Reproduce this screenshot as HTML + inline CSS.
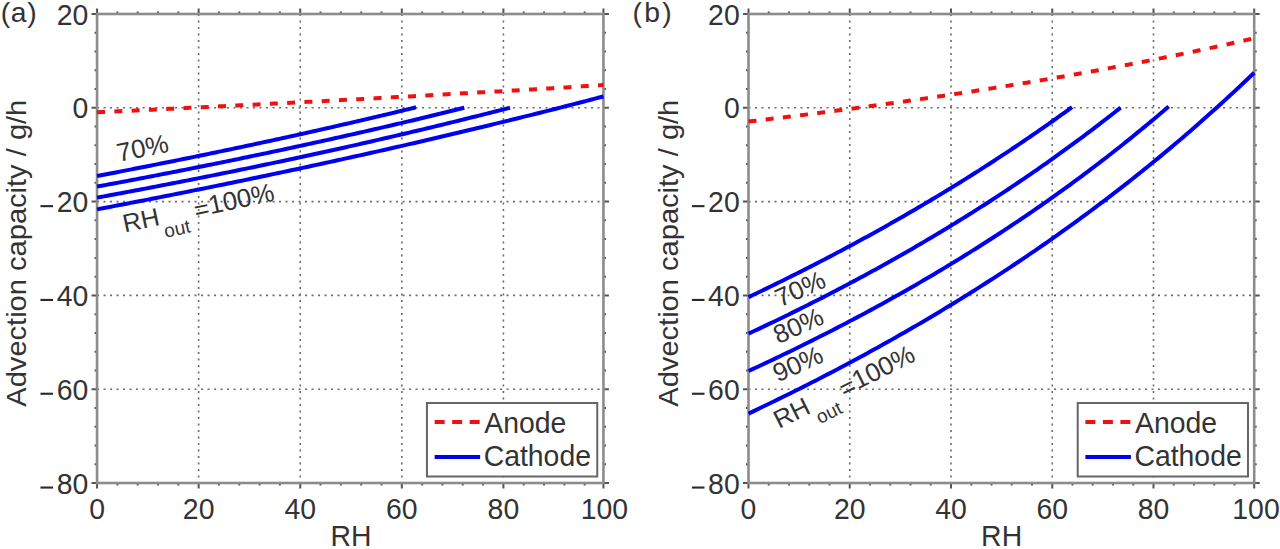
<!DOCTYPE html>
<html><head><meta charset="utf-8"><style>
html,body{margin:0;padding:0;background:#fff;width:1280px;height:549px;overflow:hidden}
svg text{font-family:"Liberation Sans", sans-serif;fill:#333}
</style></head><body>
<svg width="1280" height="549" viewBox="0 0 1280 549" style="display:block">
<rect width="1280" height="549" fill="#fff"/>
<line x1="198.64" y1="14.0" x2="198.64" y2="483.0" stroke="#6a6a6a" stroke-width="1.6" stroke-dasharray="2 4.5"/>
<line x1="300.23" y1="14.0" x2="300.23" y2="483.0" stroke="#6a6a6a" stroke-width="1.6" stroke-dasharray="2 4.5"/>
<line x1="401.82" y1="14.0" x2="401.82" y2="483.0" stroke="#6a6a6a" stroke-width="1.6" stroke-dasharray="2 4.5"/>
<line x1="503.41" y1="14.0" x2="503.41" y2="483.0" stroke="#6a6a6a" stroke-width="1.6" stroke-dasharray="2 4.5"/>
<line x1="97.05" y1="107.80" x2="603.45" y2="107.80" stroke="#6a6a6a" stroke-width="1.6" stroke-dasharray="2 4.5"/>
<line x1="97.05" y1="201.60" x2="603.45" y2="201.60" stroke="#6a6a6a" stroke-width="1.6" stroke-dasharray="2 4.5"/>
<line x1="97.05" y1="295.40" x2="603.45" y2="295.40" stroke="#6a6a6a" stroke-width="1.6" stroke-dasharray="2 4.5"/>
<line x1="97.05" y1="389.20" x2="603.45" y2="389.20" stroke="#6a6a6a" stroke-width="1.6" stroke-dasharray="2 4.5"/>
<path d="M97.05,483.0 v5.5 M97.05,14.0 v-5.5 M117.37,483.0 v2.5 M117.37,14.0 v-2.5 M137.69,483.0 v2.5 M137.69,14.0 v-2.5 M158.00,483.0 v2.5 M158.00,14.0 v-2.5 M178.32,483.0 v2.5 M178.32,14.0 v-2.5 M198.64,483.0 v5.5 M198.64,14.0 v-5.5 M218.96,483.0 v2.5 M218.96,14.0 v-2.5 M239.28,483.0 v2.5 M239.28,14.0 v-2.5 M259.59,483.0 v2.5 M259.59,14.0 v-2.5 M279.91,483.0 v2.5 M279.91,14.0 v-2.5 M300.23,483.0 v5.5 M300.23,14.0 v-5.5 M320.55,483.0 v2.5 M320.55,14.0 v-2.5 M340.87,483.0 v2.5 M340.87,14.0 v-2.5 M361.18,483.0 v2.5 M361.18,14.0 v-2.5 M381.50,483.0 v2.5 M381.50,14.0 v-2.5 M401.82,483.0 v5.5 M401.82,14.0 v-5.5 M422.14,483.0 v2.5 M422.14,14.0 v-2.5 M442.46,483.0 v2.5 M442.46,14.0 v-2.5 M462.77,483.0 v2.5 M462.77,14.0 v-2.5 M483.09,483.0 v2.5 M483.09,14.0 v-2.5 M503.41,483.0 v5.5 M503.41,14.0 v-5.5 M523.73,483.0 v2.5 M523.73,14.0 v-2.5 M544.05,483.0 v2.5 M544.05,14.0 v-2.5 M564.36,483.0 v2.5 M564.36,14.0 v-2.5 M584.68,483.0 v2.5 M584.68,14.0 v-2.5 M603.45,483.0 v5.5 M603.45,14.0 v-5.5 M97.05,483.00 h-5.5 M603.45,483.00 h5.5 M97.05,464.24 h-2.5 M603.45,464.24 h2.5 M97.05,445.48 h-2.5 M603.45,445.48 h2.5 M97.05,426.72 h-2.5 M603.45,426.72 h2.5 M97.05,407.96 h-2.5 M603.45,407.96 h2.5 M97.05,389.20 h-5.5 M603.45,389.20 h5.5 M97.05,370.44 h-2.5 M603.45,370.44 h2.5 M97.05,351.68 h-2.5 M603.45,351.68 h2.5 M97.05,332.92 h-2.5 M603.45,332.92 h2.5 M97.05,314.16 h-2.5 M603.45,314.16 h2.5 M97.05,295.40 h-5.5 M603.45,295.40 h5.5 M97.05,276.64 h-2.5 M603.45,276.64 h2.5 M97.05,257.88 h-2.5 M603.45,257.88 h2.5 M97.05,239.12 h-2.5 M603.45,239.12 h2.5 M97.05,220.36 h-2.5 M603.45,220.36 h2.5 M97.05,201.60 h-5.5 M603.45,201.60 h5.5 M97.05,182.84 h-2.5 M603.45,182.84 h2.5 M97.05,164.08 h-2.5 M603.45,164.08 h2.5 M97.05,145.32 h-2.5 M603.45,145.32 h2.5 M97.05,126.56 h-2.5 M603.45,126.56 h2.5 M97.05,107.80 h-5.5 M603.45,107.80 h5.5 M97.05,89.04 h-2.5 M603.45,89.04 h2.5 M97.05,70.28 h-2.5 M603.45,70.28 h2.5 M97.05,51.52 h-2.5 M603.45,51.52 h2.5 M97.05,32.76 h-2.5 M603.45,32.76 h2.5 M97.05,14.00 h-5.5 M603.45,14.00 h5.5" stroke="#555555" stroke-width="2" fill="none"/>
<rect x="97.05" y="14.0" width="506.40" height="469.00" fill="none" stroke="#8c8c8c" stroke-width="2.6"/>
<path d="M97.05,175.99 L99.71,175.49 L102.37,174.98 L105.02,174.47 L107.68,173.96 L110.34,173.45 L113.00,172.94 L115.66,172.43 L118.32,171.92 L120.97,171.41 L123.63,170.89 L126.29,170.38 L128.95,169.86 L131.61,169.34 L134.27,168.82 L136.92,168.30 L139.58,167.78 L142.24,167.26 L144.90,166.74 L147.56,166.21 L150.22,165.69 L152.87,165.16 L155.53,164.63 L158.19,164.11 L160.85,163.58 L163.51,163.05 L166.17,162.52 L168.82,161.98 L171.48,161.45 L174.14,160.92 L176.80,160.38 L179.46,159.84 L182.11,159.31 L184.77,158.77 L187.43,158.23 L190.09,157.69 L192.75,157.14 L195.41,156.60 L198.06,156.06 L200.72,155.51 L203.38,154.96 L206.04,154.42 L208.70,153.87 L211.36,153.32 L214.01,152.77 L216.67,152.21 L219.33,151.66 L221.99,151.11 L224.65,150.55 L227.31,149.99 L229.96,149.44 L232.62,148.88 L235.28,148.32 L237.94,147.76 L240.60,147.19 L243.25,146.63 L245.91,146.06 L248.57,145.50 L251.23,144.93 L253.89,144.36 L256.55,143.79 L259.20,143.22 L261.86,142.65 L264.52,142.08 L267.18,141.50 L269.84,140.93 L272.50,140.35 L275.15,139.77 L277.81,139.19 L280.47,138.61 L283.13,138.03 L285.79,137.45 L288.45,136.87 L291.10,136.28 L293.76,135.69 L296.42,135.11 L299.08,134.52 L301.74,133.93 L304.40,133.34 L307.05,132.74 L309.71,132.15 L312.37,131.55 L315.03,130.96 L317.69,130.36 L320.34,129.76 L323.00,129.16 L325.66,128.56 L328.32,127.96 L330.98,127.35 L333.64,126.75 L336.29,126.14 L338.95,125.53 L341.61,124.92 L344.27,124.31 L346.93,123.70 L349.59,123.09 L352.24,122.47 L354.90,121.86 L357.56,121.24 L360.22,120.62 L362.88,120.00 L365.54,119.38 L368.19,118.76 L370.85,118.13 L373.51,117.51 L376.17,116.88 L378.83,116.25 L381.49,115.62 L384.14,114.99 L386.80,114.36 L389.46,113.73 L392.12,113.09 L394.78,112.45 L397.43,111.82 L400.09,111.18 L402.75,110.54 L405.41,109.89 L408.07,109.25 L410.73,108.61 L413.38,107.96 L416.04,107.31" stroke="#0000f0" stroke-width="4.0" fill="none" stroke-linejoin="round"/>
<path d="M97.05,186.59 L100.11,186.03 L103.17,185.46 L106.23,184.89 L109.29,184.32 L112.35,183.74 L115.41,183.17 L118.47,182.60 L121.53,182.02 L124.59,181.44 L127.65,180.86 L130.71,180.28 L133.77,179.70 L136.84,179.12 L139.90,178.53 L142.96,177.95 L146.02,177.36 L149.08,176.77 L152.14,176.18 L155.20,175.59 L158.26,175.00 L161.32,174.41 L164.38,173.81 L167.44,173.21 L170.50,172.62 L173.56,172.02 L176.62,171.42 L179.68,170.81 L182.74,170.21 L185.80,169.60 L188.86,169.00 L191.92,168.39 L194.98,167.78 L198.04,167.17 L201.10,166.56 L204.16,165.94 L207.22,165.33 L210.28,164.71 L213.35,164.09 L216.41,163.47 L219.47,162.85 L222.53,162.23 L225.59,161.60 L228.65,160.98 L231.71,160.35 L234.77,159.72 L237.83,159.09 L240.89,158.46 L243.95,157.82 L247.01,157.19 L250.07,156.55 L253.13,155.91 L256.19,155.27 L259.25,154.63 L262.31,153.99 L265.37,153.34 L268.43,152.70 L271.49,152.05 L274.55,151.40 L277.61,150.75 L280.67,150.10 L283.73,149.44 L286.79,148.79 L289.86,148.13 L292.92,147.47 L295.98,146.81 L299.04,146.15 L302.10,145.48 L305.16,144.82 L308.22,144.15 L311.28,143.48 L314.34,142.81 L317.40,142.14 L320.46,141.47 L323.52,140.79 L326.58,140.11 L329.64,139.43 L332.70,138.75 L335.76,138.07 L338.82,137.39 L341.88,136.70 L344.94,136.01 L348.00,135.32 L351.06,134.63 L354.12,133.94 L357.18,133.24 L360.24,132.55 L363.30,131.85 L366.37,131.15 L369.43,130.45 L372.49,129.74 L375.55,129.04 L378.61,128.33 L381.67,127.62 L384.73,126.91 L387.79,126.20 L390.85,125.48 L393.91,124.77 L396.97,124.05 L400.03,123.33 L403.09,122.61 L406.15,121.88 L409.21,121.16 L412.27,120.43 L415.33,119.70 L418.39,118.97 L421.45,118.24 L424.51,117.50 L427.57,116.76 L430.63,116.02 L433.69,115.28 L436.75,114.54 L439.81,113.79 L442.88,113.05 L445.94,112.30 L449.00,111.55 L452.06,110.79 L455.12,110.04 L458.18,109.28 L461.24,108.52 L464.30,107.76" stroke="#0000f0" stroke-width="4.0" fill="none" stroke-linejoin="round"/>
<path d="M97.05,197.61 L100.49,196.98 L103.93,196.35 L107.37,195.71 L110.82,195.08 L114.26,194.44 L117.70,193.80 L121.14,193.16 L124.58,192.51 L128.02,191.87 L131.46,191.22 L134.90,190.57 L138.35,189.92 L141.79,189.27 L145.23,188.62 L148.67,187.96 L152.11,187.30 L155.55,186.64 L158.99,185.98 L162.44,185.32 L165.88,184.65 L169.32,183.99 L172.76,183.32 L176.20,182.65 L179.64,181.98 L183.08,181.30 L186.53,180.63 L189.97,179.95 L193.41,179.27 L196.85,178.59 L200.29,177.91 L203.73,177.22 L207.17,176.54 L210.61,175.85 L214.06,175.16 L217.50,174.47 L220.94,173.77 L224.38,173.08 L227.82,172.38 L231.26,171.68 L234.70,170.97 L238.15,170.27 L241.59,169.56 L245.03,168.86 L248.47,168.15 L251.91,167.43 L255.35,166.72 L258.79,166.00 L262.24,165.29 L265.68,164.57 L269.12,163.85 L272.56,163.12 L276.00,162.39 L279.44,161.67 L282.88,160.94 L286.32,160.20 L289.77,159.47 L293.21,158.73 L296.65,157.99 L300.09,157.25 L303.53,156.51 L306.97,155.77 L310.41,155.02 L313.86,154.27 L317.30,153.52 L320.74,152.77 L324.18,152.01 L327.62,151.25 L331.06,150.49 L334.50,149.73 L337.95,148.96 L341.39,148.20 L344.83,147.43 L348.27,146.66 L351.71,145.88 L355.15,145.11 L358.59,144.33 L362.03,143.55 L365.48,142.77 L368.92,141.98 L372.36,141.20 L375.80,140.41 L379.24,139.61 L382.68,138.82 L386.12,138.02 L389.57,137.22 L393.01,136.42 L396.45,135.62 L399.89,134.81 L403.33,134.01 L406.77,133.19 L410.21,132.38 L413.66,131.57 L417.10,130.75 L420.54,129.93 L423.98,129.10 L427.42,128.28 L430.86,127.45 L434.30,126.62 L437.74,125.79 L441.19,124.95 L444.63,124.11 L448.07,123.27 L451.51,122.43 L454.95,121.58 L458.39,120.73 L461.83,119.88 L465.28,119.03 L468.72,118.17 L472.16,117.31 L475.60,116.45 L479.04,115.59 L482.48,114.72 L485.92,113.85 L489.37,112.98 L492.81,112.10 L496.25,111.23 L499.69,110.34 L503.13,109.46 L506.57,108.58 L510.01,107.69" stroke="#0000f0" stroke-width="4.0" fill="none" stroke-linejoin="round"/>
<path d="M97.05,209.34 L101.27,208.54 L105.49,207.74 L109.71,206.93 L113.93,206.13 L118.15,205.32 L122.37,204.51 L126.59,203.70 L130.81,202.88 L135.03,202.06 L139.25,201.25 L143.47,200.43 L147.69,199.60 L151.91,198.78 L156.13,197.95 L160.35,197.12 L164.57,196.29 L168.79,195.46 L173.01,194.62 L177.23,193.79 L181.45,192.95 L185.67,192.10 L189.89,191.26 L194.11,190.41 L198.33,189.57 L202.55,188.72 L206.77,187.86 L210.99,187.01 L215.21,186.15 L219.43,185.29 L223.65,184.43 L227.87,183.57 L232.09,182.70 L236.31,181.83 L240.53,180.96 L244.75,180.09 L248.97,179.21 L253.19,178.33 L257.41,177.45 L261.63,176.57 L265.85,175.69 L270.07,174.80 L274.29,173.91 L278.51,173.02 L282.73,172.13 L286.95,171.23 L291.17,170.33 L295.39,169.43 L299.61,168.53 L303.83,167.62 L308.05,166.71 L312.27,165.80 L316.49,164.89 L320.71,163.97 L324.93,163.05 L329.15,162.13 L333.37,161.21 L337.59,160.28 L341.81,159.35 L346.03,158.42 L350.25,157.49 L354.47,156.56 L358.69,155.62 L362.91,154.68 L367.13,153.73 L371.35,152.79 L375.57,151.84 L379.79,150.89 L384.01,149.93 L388.23,148.98 L392.45,148.02 L396.67,147.06 L400.89,146.09 L405.11,145.12 L409.33,144.15 L413.55,143.18 L417.77,142.21 L421.99,141.23 L426.21,140.25 L430.43,139.27 L434.65,138.28 L438.87,137.29 L443.09,136.30 L447.31,135.31 L451.53,134.31 L455.75,133.31 L459.97,132.31 L464.19,131.30 L468.41,130.29 L472.63,129.28 L476.85,128.27 L481.07,127.25 L485.29,126.23 L489.51,125.21 L493.73,124.18 L497.95,123.15 L502.17,122.12 L506.39,121.09 L510.61,120.05 L514.83,119.01 L519.05,117.97 L523.27,116.92 L527.49,115.87 L531.71,114.82 L535.93,113.76 L540.15,112.70 L544.37,111.64 L548.59,110.58 L552.81,109.51 L557.03,108.44 L561.25,107.37 L565.47,106.29 L569.69,105.21 L573.91,104.12 L578.13,103.04 L582.35,101.95 L586.57,100.86 L590.79,99.76 L595.01,98.66 L599.23,97.56 L603.45,96.45" stroke="#0000f0" stroke-width="4.0" fill="none" stroke-linejoin="round"/>
<path d="M97.05,112.26 L101.27,112.06 L105.49,111.86 L109.71,111.66 L113.93,111.47 L118.15,111.27 L122.37,111.07 L126.59,110.87 L130.81,110.67 L135.03,110.47 L139.25,110.27 L143.47,110.07 L147.69,109.87 L151.91,109.67 L156.13,109.47 L160.35,109.26 L164.57,109.06 L168.79,108.86 L173.01,108.65 L177.23,108.45 L181.45,108.24 L185.67,108.04 L189.89,107.83 L194.11,107.62 L198.33,107.42 L202.55,107.21 L206.77,107.00 L210.99,106.79 L215.21,106.58 L219.43,106.37 L223.65,106.17 L227.87,105.95 L232.09,105.74 L236.31,105.53 L240.53,105.32 L244.75,105.11 L248.97,104.90 L253.19,104.68 L257.41,104.47 L261.63,104.25 L265.85,104.04 L270.07,103.82 L274.29,103.61 L278.51,103.39 L282.73,103.18 L286.95,102.96 L291.17,102.74 L295.39,102.52 L299.61,102.30 L303.83,102.08 L308.05,101.86 L312.27,101.64 L316.49,101.42 L320.71,101.20 L324.93,100.98 L329.15,100.76 L333.37,100.53 L337.59,100.31 L341.81,100.09 L346.03,99.86 L350.25,99.64 L354.47,99.41 L358.69,99.18 L362.91,98.96 L367.13,98.73 L371.35,98.50 L375.57,98.27 L379.79,98.04 L384.01,97.81 L388.23,97.58 L392.45,97.35 L396.67,97.12 L400.89,96.89 L405.11,96.66 L409.33,96.42 L413.55,96.19 L417.77,95.96 L421.99,95.72 L426.21,95.49 L430.43,95.25 L434.65,95.01 L438.87,94.78 L443.09,94.54 L447.31,94.30 L451.53,94.06 L455.75,93.82 L459.97,93.58 L464.19,93.34 L468.41,93.10 L472.63,92.86 L476.85,92.62 L481.07,92.37 L485.29,92.13 L489.51,91.89 L493.73,91.64 L497.95,91.40 L502.17,91.15 L506.39,90.90 L510.61,90.66 L514.83,90.41 L519.05,90.16 L523.27,89.91 L527.49,89.66 L531.71,89.41 L535.93,89.16 L540.15,88.91 L544.37,88.65 L548.59,88.40 L552.81,88.15 L557.03,87.89 L561.25,87.64 L565.47,87.38 L569.69,87.13 L573.91,86.87 L578.13,86.61 L582.35,86.35 L586.57,86.10 L590.79,85.84 L595.01,85.58 L599.23,85.31 L603.45,85.05" stroke="#f01010" stroke-width="4" fill="none" stroke-dasharray="8 9.3"/>
<text transform="translate(88.25,24.60) scale(1,1.05)" font-size="28.4" text-anchor="end">20</text>
<text transform="translate(88.25,118.40) scale(1,1.05)" font-size="28.4" text-anchor="end">0</text>
<text transform="translate(88.25,212.20) scale(1,1.05)" font-size="28.4" text-anchor="end">20</text>
<rect x="40.45" y="205.10" width="12.6" height="2.1" fill="#2a2a2a"/>
<text transform="translate(88.25,306.00) scale(1,1.05)" font-size="28.4" text-anchor="end">40</text>
<rect x="40.45" y="298.90" width="12.6" height="2.1" fill="#2a2a2a"/>
<text transform="translate(88.25,399.80) scale(1,1.05)" font-size="28.4" text-anchor="end">60</text>
<rect x="40.45" y="392.70" width="12.6" height="2.1" fill="#2a2a2a"/>
<text transform="translate(88.25,493.60) scale(1,1.05)" font-size="28.4" text-anchor="end">80</text>
<rect x="40.45" y="486.50" width="12.6" height="2.1" fill="#2a2a2a"/>
<text transform="translate(97.05,518.80) scale(1,1.05)" font-size="28.4" text-anchor="middle">0</text>
<text transform="translate(198.64,518.80) scale(1,1.05)" font-size="28.4" text-anchor="middle">20</text>
<text transform="translate(300.23,518.80) scale(1,1.05)" font-size="28.4" text-anchor="middle">40</text>
<text transform="translate(401.82,518.80) scale(1,1.05)" font-size="28.4" text-anchor="middle">60</text>
<text transform="translate(503.41,518.80) scale(1,1.05)" font-size="28.4" text-anchor="middle">80</text>
<text transform="translate(604.45,518.80) scale(1,1.05)" font-size="28.4" text-anchor="middle">100</text>
<text transform="translate(351.02,545.80) scale(1,1.05)" font-size="28.4" text-anchor="middle">RH</text>
<text transform="translate(26.05,253.2) rotate(-90)" text-anchor="middle" font-size="28" textLength="307" lengthAdjust="spacingAndGlyphs">Advection capacity / g/h</text>
<text transform="translate(0.80,22.30) scale(1,1.0)" font-size="28.3" letter-spacing="0.6">(a)</text>
<rect x="426.95" y="403" width="170.3" height="73.5" fill="#fff" stroke="#666" stroke-width="2"/>
<line x1="434.65" y1="422" x2="480.15" y2="422" stroke="#f01010" stroke-width="4" stroke-dasharray="10 7.5"/>
<line x1="434.65" y1="457" x2="480.15" y2="457" stroke="#0000f0" stroke-width="4"/>
<text transform="translate(484.25,433.00) scale(1,1.05)" font-size="28.4">Anode</text>
<text transform="translate(483.65,465.60) scale(1,1.05)" font-size="28.4">Cathode</text>
<line x1="849.75" y1="14.0" x2="849.75" y2="483.0" stroke="#6a6a6a" stroke-width="1.6" stroke-dasharray="2 4.5"/>
<line x1="951.00" y1="14.0" x2="951.00" y2="483.0" stroke="#6a6a6a" stroke-width="1.6" stroke-dasharray="2 4.5"/>
<line x1="1052.25" y1="14.0" x2="1052.25" y2="483.0" stroke="#6a6a6a" stroke-width="1.6" stroke-dasharray="2 4.5"/>
<line x1="1153.50" y1="14.0" x2="1153.50" y2="483.0" stroke="#6a6a6a" stroke-width="1.6" stroke-dasharray="2 4.5"/>
<line x1="748.5" y1="107.80" x2="1254.2" y2="107.80" stroke="#6a6a6a" stroke-width="1.6" stroke-dasharray="2 4.5"/>
<line x1="748.5" y1="201.60" x2="1254.2" y2="201.60" stroke="#6a6a6a" stroke-width="1.6" stroke-dasharray="2 4.5"/>
<line x1="748.5" y1="295.40" x2="1254.2" y2="295.40" stroke="#6a6a6a" stroke-width="1.6" stroke-dasharray="2 4.5"/>
<line x1="748.5" y1="389.20" x2="1254.2" y2="389.20" stroke="#6a6a6a" stroke-width="1.6" stroke-dasharray="2 4.5"/>
<path d="M748.50,483.0 v5.5 M748.50,14.0 v-5.5 M768.75,483.0 v2.5 M768.75,14.0 v-2.5 M789.00,483.0 v2.5 M789.00,14.0 v-2.5 M809.25,483.0 v2.5 M809.25,14.0 v-2.5 M829.50,483.0 v2.5 M829.50,14.0 v-2.5 M849.75,483.0 v5.5 M849.75,14.0 v-5.5 M870.00,483.0 v2.5 M870.00,14.0 v-2.5 M890.25,483.0 v2.5 M890.25,14.0 v-2.5 M910.50,483.0 v2.5 M910.50,14.0 v-2.5 M930.75,483.0 v2.5 M930.75,14.0 v-2.5 M951.00,483.0 v5.5 M951.00,14.0 v-5.5 M971.25,483.0 v2.5 M971.25,14.0 v-2.5 M991.50,483.0 v2.5 M991.50,14.0 v-2.5 M1011.75,483.0 v2.5 M1011.75,14.0 v-2.5 M1032.00,483.0 v2.5 M1032.00,14.0 v-2.5 M1052.25,483.0 v5.5 M1052.25,14.0 v-5.5 M1072.50,483.0 v2.5 M1072.50,14.0 v-2.5 M1092.75,483.0 v2.5 M1092.75,14.0 v-2.5 M1113.00,483.0 v2.5 M1113.00,14.0 v-2.5 M1133.25,483.0 v2.5 M1133.25,14.0 v-2.5 M1153.50,483.0 v5.5 M1153.50,14.0 v-5.5 M1173.75,483.0 v2.5 M1173.75,14.0 v-2.5 M1194.00,483.0 v2.5 M1194.00,14.0 v-2.5 M1214.25,483.0 v2.5 M1214.25,14.0 v-2.5 M1234.50,483.0 v2.5 M1234.50,14.0 v-2.5 M1254.20,483.0 v5.5 M1254.20,14.0 v-5.5 M748.5,483.00 h-5.5 M1254.2,483.00 h5.5 M748.5,464.24 h-2.5 M1254.2,464.24 h2.5 M748.5,445.48 h-2.5 M1254.2,445.48 h2.5 M748.5,426.72 h-2.5 M1254.2,426.72 h2.5 M748.5,407.96 h-2.5 M1254.2,407.96 h2.5 M748.5,389.20 h-5.5 M1254.2,389.20 h5.5 M748.5,370.44 h-2.5 M1254.2,370.44 h2.5 M748.5,351.68 h-2.5 M1254.2,351.68 h2.5 M748.5,332.92 h-2.5 M1254.2,332.92 h2.5 M748.5,314.16 h-2.5 M1254.2,314.16 h2.5 M748.5,295.40 h-5.5 M1254.2,295.40 h5.5 M748.5,276.64 h-2.5 M1254.2,276.64 h2.5 M748.5,257.88 h-2.5 M1254.2,257.88 h2.5 M748.5,239.12 h-2.5 M1254.2,239.12 h2.5 M748.5,220.36 h-2.5 M1254.2,220.36 h2.5 M748.5,201.60 h-5.5 M1254.2,201.60 h5.5 M748.5,182.84 h-2.5 M1254.2,182.84 h2.5 M748.5,164.08 h-2.5 M1254.2,164.08 h2.5 M748.5,145.32 h-2.5 M1254.2,145.32 h2.5 M748.5,126.56 h-2.5 M1254.2,126.56 h2.5 M748.5,107.80 h-5.5 M1254.2,107.80 h5.5 M748.5,89.04 h-2.5 M1254.2,89.04 h2.5 M748.5,70.28 h-2.5 M1254.2,70.28 h2.5 M748.5,51.52 h-2.5 M1254.2,51.52 h2.5 M748.5,32.76 h-2.5 M1254.2,32.76 h2.5 M748.5,14.00 h-5.5 M1254.2,14.00 h5.5" stroke="#555555" stroke-width="2" fill="none"/>
<rect x="748.5" y="14.0" width="505.70" height="469.00" fill="none" stroke="#8c8c8c" stroke-width="2.6"/>
<path d="M748.50,297.14 L751.20,295.86 L753.89,294.57 L756.59,293.28 L759.28,291.99 L761.98,290.69 L764.67,289.39 L767.37,288.09 L770.07,286.78 L772.76,285.46 L775.46,284.15 L778.15,282.82 L780.85,281.50 L783.55,280.17 L786.24,278.83 L788.94,277.49 L791.63,276.15 L794.33,274.80 L797.02,273.45 L799.72,272.09 L802.42,270.73 L805.11,269.36 L807.81,267.99 L810.50,266.61 L813.20,265.23 L815.89,263.85 L818.59,262.46 L821.29,261.07 L823.98,259.67 L826.68,258.26 L829.37,256.86 L832.07,255.44 L834.76,254.03 L837.46,252.60 L840.16,251.18 L842.85,249.74 L845.55,248.31 L848.24,246.86 L850.94,245.42 L853.64,243.97 L856.33,242.51 L859.03,241.05 L861.72,239.58 L864.42,238.11 L867.11,236.63 L869.81,235.15 L872.51,233.66 L875.20,232.17 L877.90,230.67 L880.59,229.17 L883.29,227.66 L885.98,226.15 L888.68,224.63 L891.38,223.11 L894.07,221.58 L896.77,220.04 L899.46,218.50 L902.16,216.96 L904.86,215.41 L907.55,213.85 L910.25,212.29 L912.94,210.72 L915.64,209.15 L918.33,207.57 L921.03,205.98 L923.73,204.39 L926.42,202.80 L929.12,201.20 L931.81,199.59 L934.51,197.98 L937.20,196.36 L939.90,194.73 L942.60,193.10 L945.29,191.47 L947.99,189.82 L950.68,188.17 L953.38,186.52 L956.08,184.86 L958.77,183.19 L961.47,181.52 L964.16,179.84 L966.86,178.16 L969.55,176.46 L972.25,174.77 L974.95,173.06 L977.64,171.35 L980.34,169.64 L983.03,167.91 L985.73,166.18 L988.42,164.45 L991.12,162.71 L993.82,160.96 L996.51,159.20 L999.21,157.44 L1001.90,155.67 L1004.60,153.89 L1007.30,152.11 L1009.99,150.32 L1012.69,148.53 L1015.38,146.73 L1018.08,144.92 L1020.77,143.10 L1023.47,141.28 L1026.17,139.45 L1028.86,137.61 L1031.56,135.76 L1034.25,133.91 L1036.95,132.05 L1039.64,130.19 L1042.34,128.31 L1045.04,126.43 L1047.73,124.54 L1050.43,122.65 L1053.12,120.75 L1055.82,118.84 L1058.51,116.92 L1061.21,114.99 L1063.91,113.06 L1066.60,111.12 L1069.30,109.17 L1071.99,107.22" stroke="#0000f0" stroke-width="4.0" fill="none" stroke-linejoin="round"/>
<path d="M748.50,333.67 L751.60,332.22 L754.70,330.77 L757.80,329.32 L760.90,327.85 L764.00,326.39 L767.10,324.91 L770.21,323.43 L773.31,321.95 L776.41,320.45 L779.51,318.96 L782.61,317.45 L785.71,315.94 L788.81,314.43 L791.91,312.91 L795.01,311.38 L798.11,309.84 L801.21,308.30 L804.31,306.76 L807.41,305.21 L810.52,303.65 L813.62,302.08 L816.72,300.51 L819.82,298.93 L822.92,297.35 L826.02,295.76 L829.12,294.16 L832.22,292.55 L835.32,290.94 L838.42,289.33 L841.52,287.70 L844.62,286.07 L847.73,284.43 L850.83,282.79 L853.93,281.14 L857.03,279.48 L860.13,277.81 L863.23,276.14 L866.33,274.46 L869.43,272.78 L872.53,271.08 L875.63,269.38 L878.73,267.67 L881.83,265.96 L884.93,264.24 L888.04,262.51 L891.14,260.77 L894.24,259.02 L897.34,257.27 L900.44,255.51 L903.54,253.74 L906.64,251.97 L909.74,250.19 L912.84,248.40 L915.94,246.60 L919.04,244.79 L922.14,242.98 L925.24,241.15 L928.35,239.32 L931.45,237.49 L934.55,235.64 L937.65,233.79 L940.75,231.92 L943.85,230.05 L946.95,228.17 L950.05,226.28 L953.15,224.39 L956.25,222.48 L959.35,220.57 L962.45,218.65 L965.55,216.72 L968.66,214.78 L971.76,212.83 L974.86,210.87 L977.96,208.91 L981.06,206.93 L984.16,204.95 L987.26,202.95 L990.36,200.95 L993.46,198.94 L996.56,196.92 L999.66,194.89 L1002.76,192.85 L1005.86,190.80 L1008.97,188.74 L1012.07,186.67 L1015.17,184.60 L1018.27,182.51 L1021.37,180.41 L1024.47,178.30 L1027.57,176.19 L1030.67,174.06 L1033.77,171.92 L1036.87,169.77 L1039.97,167.62 L1043.07,165.45 L1046.17,163.27 L1049.28,161.08 L1052.38,158.88 L1055.48,156.67 L1058.58,154.45 L1061.68,152.22 L1064.78,149.97 L1067.88,147.72 L1070.98,145.45 L1074.08,143.18 L1077.18,140.89 L1080.28,138.59 L1083.38,136.28 L1086.49,133.96 L1089.59,131.63 L1092.69,129.29 L1095.79,126.93 L1098.89,124.56 L1101.99,122.18 L1105.09,119.79 L1108.19,117.39 L1111.29,114.97 L1114.39,112.54 L1117.49,110.10 L1120.59,107.65" stroke="#0000f0" stroke-width="4.0" fill="none" stroke-linejoin="round"/>
<path d="M748.50,371.05 L752.00,369.44 L755.50,367.81 L759.00,366.19 L762.51,364.55 L766.01,362.91 L769.51,361.25 L773.01,359.60 L776.51,357.93 L780.01,356.26 L783.52,354.57 L787.02,352.88 L790.52,351.19 L794.02,349.48 L797.52,347.77 L801.02,346.05 L804.52,344.32 L808.03,342.58 L811.53,340.84 L815.03,339.08 L818.53,337.32 L822.03,335.55 L825.53,333.78 L829.04,331.99 L832.54,330.19 L836.04,328.39 L839.54,326.58 L843.04,324.76 L846.54,322.93 L850.05,321.09 L853.55,319.24 L857.05,317.39 L860.55,315.52 L864.05,313.65 L867.55,311.76 L871.05,309.87 L874.56,307.97 L878.06,306.06 L881.56,304.14 L885.06,302.21 L888.56,300.27 L892.06,298.32 L895.57,296.36 L899.07,294.39 L902.57,292.41 L906.07,290.43 L909.57,288.43 L913.07,286.42 L916.58,284.40 L920.08,282.37 L923.58,280.33 L927.08,278.29 L930.58,276.23 L934.08,274.16 L937.58,272.08 L941.09,269.98 L944.59,267.88 L948.09,265.77 L951.59,263.65 L955.09,261.51 L958.59,259.37 L962.10,257.21 L965.60,255.04 L969.10,252.86 L972.60,250.67 L976.10,248.47 L979.60,246.25 L983.10,244.03 L986.61,241.79 L990.11,239.54 L993.61,237.28 L997.11,235.01 L1000.61,232.72 L1004.11,230.42 L1007.62,228.11 L1011.12,225.79 L1014.62,223.46 L1018.12,221.11 L1021.62,218.75 L1025.12,216.37 L1028.62,213.99 L1032.13,211.59 L1035.63,209.17 L1039.13,206.75 L1042.63,204.31 L1046.13,201.85 L1049.63,199.39 L1053.14,196.91 L1056.64,194.41 L1060.14,191.90 L1063.64,189.38 L1067.14,186.84 L1070.64,184.29 L1074.15,181.73 L1077.65,179.15 L1081.15,176.55 L1084.65,173.94 L1088.15,171.31 L1091.65,168.67 L1095.15,166.02 L1098.66,163.35 L1102.16,160.66 L1105.66,157.96 L1109.16,155.24 L1112.66,152.51 L1116.16,149.76 L1119.67,146.99 L1123.17,144.21 L1126.67,141.41 L1130.17,138.60 L1133.67,135.76 L1137.17,132.92 L1140.67,130.05 L1144.18,127.17 L1147.68,124.26 L1151.18,121.35 L1154.68,118.41 L1158.18,115.46 L1161.68,112.48 L1165.19,109.49 L1168.69,106.48" stroke="#0000f0" stroke-width="4.0" fill="none" stroke-linejoin="round"/>
<path d="M748.50,413.59 L752.71,411.59 L756.93,409.59 L761.14,407.57 L765.36,405.54 L769.57,403.51 L773.78,401.46 L778.00,399.40 L782.21,397.33 L786.43,395.26 L790.64,393.17 L794.86,391.07 L799.07,388.96 L803.28,386.84 L807.50,384.70 L811.71,382.56 L815.93,380.41 L820.14,378.24 L824.36,376.06 L828.57,373.87 L832.78,371.67 L837.00,369.46 L841.21,367.24 L845.43,365.01 L849.64,362.76 L853.85,360.50 L858.07,358.23 L862.28,355.95 L866.50,353.65 L870.71,351.34 L874.92,349.02 L879.14,346.69 L883.35,344.35 L887.57,341.99 L891.78,339.62 L896.00,337.24 L900.21,334.84 L904.42,332.43 L908.64,330.01 L912.85,327.57 L917.07,325.12 L921.28,322.66 L925.50,320.18 L929.71,317.69 L933.92,315.18 L938.14,312.67 L942.35,310.13 L946.57,307.58 L950.78,305.02 L954.99,302.45 L959.21,299.86 L963.42,297.25 L967.64,294.63 L971.85,291.99 L976.07,289.34 L980.28,286.68 L984.49,283.99 L988.71,281.30 L992.92,278.58 L997.14,275.85 L1001.35,273.11 L1005.56,270.35 L1009.78,267.57 L1013.99,264.78 L1018.21,261.97 L1022.42,259.14 L1026.63,256.30 L1030.85,253.43 L1035.06,250.56 L1039.28,247.66 L1043.49,244.75 L1047.71,241.82 L1051.92,238.87 L1056.13,235.90 L1060.35,232.92 L1064.56,229.92 L1068.78,226.89 L1072.99,223.85 L1077.20,220.80 L1081.42,217.72 L1085.63,214.62 L1089.85,211.50 L1094.06,208.37 L1098.28,205.21 L1102.49,202.04 L1106.70,198.84 L1110.92,195.63 L1115.13,192.39 L1119.35,189.13 L1123.56,185.86 L1127.78,182.56 L1131.99,179.24 L1136.20,175.90 L1140.42,172.53 L1144.63,169.15 L1148.85,165.74 L1153.06,162.31 L1157.27,158.86 L1161.49,155.39 L1165.70,151.89 L1169.92,148.37 L1174.13,144.82 L1178.35,141.25 L1182.56,137.66 L1186.77,134.05 L1190.99,130.41 L1195.20,126.74 L1199.42,123.05 L1203.63,119.33 L1207.84,115.59 L1212.06,111.83 L1216.27,108.03 L1220.49,104.22 L1224.70,100.37 L1228.91,96.50 L1233.13,92.60 L1237.34,88.67 L1241.56,84.72 L1245.77,80.74 L1249.99,76.73 L1254.20,72.69" stroke="#0000f0" stroke-width="4.0" fill="none" stroke-linejoin="round"/>
<path d="M748.50,121.59 L752.71,121.09 L756.93,120.59 L761.14,120.09 L765.36,119.58 L769.57,119.07 L773.78,118.56 L778.00,118.05 L782.21,117.53 L786.43,117.01 L790.64,116.49 L794.86,115.97 L799.07,115.44 L803.28,114.92 L807.50,114.38 L811.71,113.85 L815.93,113.31 L820.14,112.78 L824.36,112.23 L828.57,111.69 L832.78,111.14 L837.00,110.59 L841.21,110.04 L845.43,109.49 L849.64,108.93 L853.85,108.37 L858.07,107.80 L862.28,107.24 L866.50,106.67 L870.71,106.10 L874.92,105.52 L879.14,104.94 L883.35,104.36 L887.57,103.78 L891.78,103.19 L896.00,102.60 L900.21,102.01 L904.42,101.41 L908.64,100.81 L912.85,100.21 L917.07,99.61 L921.28,99.00 L925.50,98.39 L929.71,97.77 L933.92,97.15 L938.14,96.53 L942.35,95.91 L946.57,95.28 L950.78,94.65 L954.99,94.01 L959.21,93.38 L963.42,92.73 L967.64,92.09 L971.85,91.44 L976.07,90.79 L980.28,90.13 L984.49,89.47 L988.71,88.81 L992.92,88.14 L997.14,87.47 L1001.35,86.80 L1005.56,86.12 L1009.78,85.44 L1013.99,84.76 L1018.21,84.07 L1022.42,83.37 L1026.63,82.68 L1030.85,81.98 L1035.06,81.27 L1039.28,80.56 L1043.49,79.85 L1047.71,79.13 L1051.92,78.41 L1056.13,77.69 L1060.35,76.96 L1064.56,76.23 L1068.78,75.49 L1072.99,74.75 L1077.20,74.00 L1081.42,73.25 L1085.63,72.50 L1089.85,71.74 L1094.06,70.97 L1098.28,70.21 L1102.49,69.43 L1106.70,68.66 L1110.92,67.88 L1115.13,67.09 L1119.35,66.30 L1123.56,65.50 L1127.78,64.70 L1131.99,63.90 L1136.20,63.09 L1140.42,62.27 L1144.63,61.45 L1148.85,60.63 L1153.06,59.80 L1157.27,58.96 L1161.49,58.12 L1165.70,57.27 L1169.92,56.42 L1174.13,55.57 L1178.35,54.71 L1182.56,53.84 L1186.77,52.97 L1190.99,52.09 L1195.20,51.21 L1199.42,50.32 L1203.63,49.42 L1207.84,48.52 L1212.06,47.62 L1216.27,46.70 L1220.49,45.79 L1224.70,44.86 L1228.91,43.93 L1233.13,43.00 L1237.34,42.05 L1241.56,41.11 L1245.77,40.15 L1249.99,39.19 L1254.20,38.23" stroke="#f01010" stroke-width="4" fill="none" stroke-dasharray="8 9.3"/>
<text transform="translate(739.70,24.60) scale(1,1.05)" font-size="28.4" text-anchor="end">20</text>
<text transform="translate(739.70,118.40) scale(1,1.05)" font-size="28.4" text-anchor="end">0</text>
<text transform="translate(739.70,212.20) scale(1,1.05)" font-size="28.4" text-anchor="end">20</text>
<rect x="691.90" y="205.10" width="12.6" height="2.1" fill="#2a2a2a"/>
<text transform="translate(739.70,306.00) scale(1,1.05)" font-size="28.4" text-anchor="end">40</text>
<rect x="691.90" y="298.90" width="12.6" height="2.1" fill="#2a2a2a"/>
<text transform="translate(739.70,399.80) scale(1,1.05)" font-size="28.4" text-anchor="end">60</text>
<rect x="691.90" y="392.70" width="12.6" height="2.1" fill="#2a2a2a"/>
<text transform="translate(739.70,493.60) scale(1,1.05)" font-size="28.4" text-anchor="end">80</text>
<rect x="691.90" y="486.50" width="12.6" height="2.1" fill="#2a2a2a"/>
<text transform="translate(748.50,518.80) scale(1,1.05)" font-size="28.4" text-anchor="middle">0</text>
<text transform="translate(849.75,518.80) scale(1,1.05)" font-size="28.4" text-anchor="middle">20</text>
<text transform="translate(951.00,518.80) scale(1,1.05)" font-size="28.4" text-anchor="middle">40</text>
<text transform="translate(1052.25,518.80) scale(1,1.05)" font-size="28.4" text-anchor="middle">60</text>
<text transform="translate(1153.50,518.80) scale(1,1.05)" font-size="28.4" text-anchor="middle">80</text>
<text transform="translate(1256.00,518.80) scale(1,1.05)" font-size="28.4" text-anchor="middle">100</text>
<text transform="translate(1001.62,545.80) scale(1,1.05)" font-size="28.4" text-anchor="middle">RH</text>
<text transform="translate(677.50,253.2) rotate(-90)" text-anchor="middle" font-size="28" textLength="307" lengthAdjust="spacingAndGlyphs">Advection capacity / g/h</text>
<text transform="translate(632.40,22.30) scale(1,1.0)" font-size="28.3" letter-spacing="2.4">(b)</text>
<rect x="1077.70" y="403" width="170.3" height="73.5" fill="#fff" stroke="#666" stroke-width="2"/>
<line x1="1085.40" y1="422" x2="1130.90" y2="422" stroke="#f01010" stroke-width="4" stroke-dasharray="10 7.5"/>
<line x1="1085.40" y1="457" x2="1130.90" y2="457" stroke="#0000f0" stroke-width="4"/>
<text transform="translate(1135.00,433.00) scale(1,1.05)" font-size="28.4">Anode</text>
<text transform="translate(1134.40,465.60) scale(1,1.05)" font-size="28.4">Cathode</text>
<text transform="translate(118.8,162) rotate(-11.5)" font-size="26">70%</text>
<text transform="translate(124.8,232.6) rotate(-12)" font-size="25.5">RH<tspan font-size="19" dx="2" dy="13.5">out</tspan><tspan dy="-11.5" dx="0" font-size="26"> =</tspan><tspan dy="-2" font-size="26">100%</tspan></text>
<text transform="translate(780,307.5) rotate(-24)" font-size="26">70%</text>
<text transform="translate(778.2,344.2) rotate(-24)" font-size="26">80%</text>
<text transform="translate(777.7,382.6) rotate(-24)" font-size="26">90%</text>
<text transform="translate(779,429) rotate(-26.5)" font-size="25.5">RH<tspan font-size="19" dx="2" dy="14">out</tspan><tspan dy="-12" dx="0" font-size="26"> =</tspan><tspan dy="-2" font-size="26">100%</tspan></text>
</svg>
</body></html>
